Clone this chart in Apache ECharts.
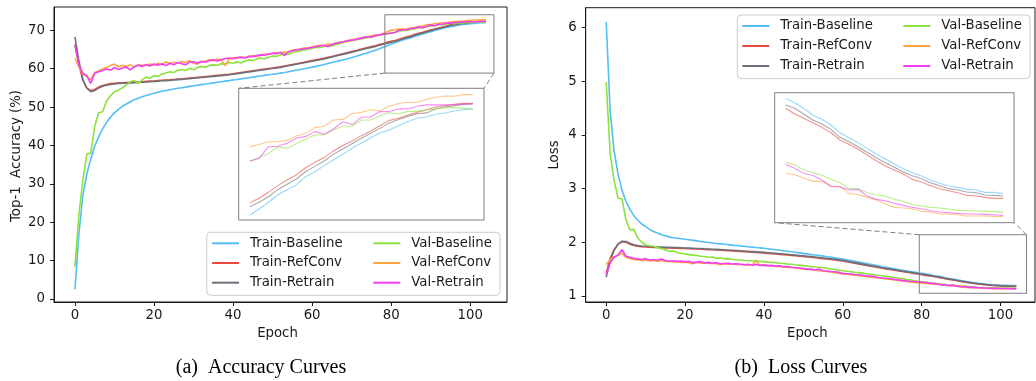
<!DOCTYPE html>
<html><head><meta charset="utf-8">
<script src="https://cdn.jsdelivr.net/npm/echarts@6/dist/echarts.min.js"></script>
<style>html,body{margin:0;padding:0;background:#fff}#c{width:1036px;height:381px}</style>
</head><body><div id="c"></div>
<script>
const epochs = [0,1,2,3,4,5,6,7,8,9,10,11,12,13,14,15,16,17,18,19,20,21,22,23,24,25,26,27,28,29,30,31,32,33,34,35,36,37,38,39,40,41,42,43,44,45,46,47,48,49,50,51,52,53,54,55,56,57,58,59,60,61,62,63,64,65,66,67,68,69,70,71,72,73,74,75,76,77,78,79,80,81,82,83,84,85,86,87,88,89,90,91,92,93,94,95,96,97,98,99,100,101,102,103,104];
const seriesNames = ['Train-Baseline','Train-RefConv','Train-Retrain','Val-Baseline','Val-RefConv','Val-Retrain'];
const lineColors = ['#52bef5','#ec4a3e','#6c717c','#8ce23c','#ffa440','#f23ef2'];
const accTicks = [0,10,20,30,40,50,60,70];
const lossTicks = [1,2,3,4,5,6];
const epochTicks = [0,20,40,60,80,100];
const insetFirstEpoch = 80;

const accTrainBaseline = [
2.5,17.0,27.0,32.5,36.5,39.8,42.3,44.3,46.0,47.4,
48.5,49.4,50.2,50.8,51.4,51.9,52.3,52.7,53.0,53.3,
53.6,53.85,54.1,54.3,54.5,54.7,54.9,55.05,55.2,55.4,
55.55,55.7,55.85,56.0,56.15,56.3,56.45,56.6,56.75,56.9,
57.05,57.2,57.35,57.5,57.65,57.8,57.95,58.1,58.25,58.4,
58.55,58.7,58.85,59.0,59.2,59.4,59.6,59.8,60.0,60.2,
60.4,60.6,60.85,61.1,61.35,61.6,61.85,62.1,62.35,62.6,
62.9,63.2,63.5,63.8,64.1,64.45,64.8,65.2,65.6,66.0,
66.46,66.78,67.13,67.51,67.79,68.04,68.47,68.73,69.05,69.36,
69.64,69.96,70.23,70.51,70.76,70.92,71.14,71.35,71.53,71.60,
71.74,71.81,71.91,71.98,72.02];
const accTrainRefConv = [
66.3,61.0,57.0,55.0,54.3,54.6,55.2,55.6,55.9,56.1,
56.2,56.3,56.35,56.4,56.45,56.5,56.55,56.6,56.7,56.75,
56.8,56.9,57.0,57.05,57.1,57.2,57.3,57.35,57.45,57.55,
57.65,57.75,57.85,57.95,58.05,58.15,58.25,58.35,58.45,58.55,
58.7,58.85,59.0,59.15,59.3,59.45,59.6,59.75,59.9,60.05,
60.2,60.35,60.5,60.7,60.9,61.1,61.3,61.5,61.7,61.9,
62.1,62.3,62.5,62.7,62.95,63.2,63.45,63.7,63.95,64.2,
64.45,64.7,65.0,65.25,65.5,65.75,66.0,66.3,66.55,66.85,
67.11,67.34,67.65,68.00,68.30,68.56,68.94,69.22,69.47,69.82,
70.10,70.34,70.62,70.86,71.14,71.42,71.53,71.70,71.84,71.98,
72.12,72.19,72.26,72.31,72.31];
const accTrainRetrain = [
68.3,62.0,57.2,54.9,54.0,54.3,55.0,55.4,55.7,55.9,
56.05,56.15,56.2,56.25,56.3,56.35,56.4,56.45,56.55,56.6,
56.65,56.75,56.85,56.9,56.95,57.05,57.15,57.2,57.3,57.4,
57.5,57.6,57.7,57.8,57.9,58.0,58.1,58.2,58.3,58.4,
58.55,58.7,58.85,59.0,59.15,59.3,59.45,59.6,59.75,59.9,
60.05,60.2,60.35,60.55,60.75,60.95,61.15,61.35,61.55,61.75,
61.95,62.15,62.35,62.55,62.8,63.05,63.3,63.55,63.8,64.05,
64.3,64.55,64.8,65.05,65.3,65.55,65.8,66.1,66.35,66.65,
66.90,67.13,67.42,67.79,68.07,68.35,68.73,69.01,69.29,69.64,
69.92,70.20,70.48,70.74,71.00,71.28,71.46,71.63,71.77,71.81,
72.02,72.12,72.19,72.26,72.28];
const accValBaseline = [
8.4,22.0,31.0,37.8,38.0,45.0,48.5,48.8,51.5,53.0,
54.0,54.4,55.0,55.8,56.6,56.9,56.2,57.1,57.8,57.5,
58.2,58.0,58.6,58.9,59.2,59.0,59.6,59.8,59.5,60.1,
59.7,60.3,60.6,60.4,60.8,61.0,60.9,61.3,61.2,61.6,
61.4,61.8,61.5,62.0,62.3,62.1,62.5,62.8,62.6,63.0,
63.3,63.2,63.6,63.9,63.7,64.2,64.4,64.6,64.9,65.1,
65.3,65.6,65.5,65.8,66.1,65.9,66.3,66.5,66.9,67.1,
67.3,67.5,67.7,67.9,68.1,68.3,68.5,68.7,68.9,69.1,
69.26,69.47,69.69,70.03,69.96,70.20,70.44,70.65,70.65,70.92,
71.11,71.11,71.44,71.44,71.67,71.82,71.75,71.89,71.89,71.96,
72.02,72.09,72.09,72.05,72.02];
const accValRefConv = [
62.7,60.5,58.5,58.0,57.2,59.0,59.5,60.0,60.3,60.8,
61.2,60.5,60.9,60.6,61.0,60.4,61.1,60.8,61.0,61.2,
60.9,61.4,61.0,61.8,61.3,61.7,61.5,61.9,61.6,62.1,
61.4,61.2,61.8,62.0,62.3,62.1,62.5,62.3,60.8,62.5,
62.8,62.7,63.0,62.9,63.2,63.4,63.1,63.5,63.8,63.7,
64.0,64.2,64.1,64.4,64.3,64.8,64.9,65.2,65.4,65.3,
65.7,65.9,66.1,66.0,66.4,66.3,66.7,66.9,67.1,67.3,
67.6,67.7,67.9,68.2,68.3,68.6,68.8,68.7,69.2,69.6,
70.03,70.16,70.30,70.30,70.37,70.60,70.74,71.04,71.11,71.44,
71.47,71.77,71.84,71.98,71.91,72.16,72.30,72.37,72.37,72.52,
72.63,72.70,72.68,72.77,72.77];
const accValRetrain = [
66.1,61.0,58.8,58.2,56.2,58.8,59.2,59.5,59.9,59.6,
60.3,59.8,60.2,60.4,59.7,60.5,60.9,60.6,61.0,60.7,
61.2,60.9,61.3,60.8,61.4,61.0,61.6,61.3,61.0,61.7,
61.8,61.5,61.9,61.7,62.1,62.3,62.0,62.4,62.6,62.8,
62.6,62.9,63.0,62.8,63.2,63.1,63.4,63.6,63.5,63.8,
64.0,63.9,64.3,63.4,64.4,64.7,64.9,65.0,65.2,65.4,
65.5,65.7,65.9,66.1,65.7,66.3,66.6,66.8,67.0,67.3,
67.4,67.6,67.9,68.1,68.3,68.2,68.6,68.8,69.0,69.1,
69.29,69.43,70.04,70.06,70.22,70.48,70.58,70.83,70.69,70.97,
71.35,71.20,71.58,71.58,71.88,71.88,72.02,72.02,72.16,72.23,
72.23,72.23,72.24,72.28,72.28];

const lossTrainBaseline = [
6.10,4.45,3.70,3.27,2.97,2.76,2.61,2.50,2.41,2.34,
2.29,2.24,2.20,2.17,2.14,2.12,2.10,2.085,2.075,2.065,
2.055,2.045,2.035,2.025,2.015,2.005,1.995,1.985,1.978,1.97,
1.962,1.955,1.947,1.94,1.932,1.925,1.917,1.91,1.902,1.895,
1.887,1.878,1.869,1.86,1.851,1.842,1.833,1.823,1.813,1.803,
1.793,1.783,1.773,1.763,1.753,1.742,1.731,1.72,1.709,1.698,
1.687,1.674,1.66,1.646,1.632,1.618,1.604,1.589,1.575,1.56,
1.545,1.532,1.519,1.506,1.493,1.48,1.468,1.456,1.444,1.432,
1.4213,1.4107,1.3969,1.3806,1.3701,1.3562,1.3375,1.3253,1.3132,1.2993,
1.2855,1.2733,1.2611,1.2497,1.2400,1.2318,1.2221,1.2140,1.2075,1.2042,
1.1993,1.1977,1.1920,1.1920,1.1888];
const lossTrainRefConv = [
1.42,1.70,1.86,1.96,2.01,2.0,1.965,1.94,1.925,1.917,
1.912,1.908,1.904,1.901,1.899,1.896,1.894,1.891,1.889,1.886,
1.883,1.879,1.876,1.873,1.87,1.866,1.863,1.859,1.855,1.851,
1.847,1.843,1.839,1.834,1.829,1.824,1.819,1.814,1.809,1.804,
1.799,1.793,1.787,1.781,1.775,1.769,1.763,1.756,1.749,1.742,
1.735,1.728,1.72,1.712,1.704,1.696,1.687,1.678,1.669,1.66,
1.651,1.638,1.624,1.61,1.597,1.583,1.569,1.556,1.543,1.53,
1.517,1.505,1.493,1.481,1.469,1.457,1.445,1.433,1.421,1.409,
1.3969,1.3831,1.3725,1.3619,1.3505,1.3375,1.3197,1.3091,1.2969,1.2831,
1.2692,1.2562,1.2465,1.2367,1.2237,1.2172,1.2083,1.2010,1.1961,1.1912,
1.1847,1.1831,1.1798,1.1774,1.1774];
const lossTrainRetrain = [
1.35,1.65,1.85,1.97,2.02,2.015,1.98,1.955,1.94,1.93,
1.925,1.92,1.915,1.912,1.91,1.907,1.905,1.902,1.90,1.897,
1.894,1.891,1.888,1.885,1.882,1.878,1.875,1.871,1.867,1.863,
1.859,1.855,1.851,1.846,1.841,1.836,1.831,1.826,1.821,1.816,
1.811,1.805,1.799,1.793,1.787,1.781,1.775,1.768,1.761,1.754,
1.747,1.74,1.732,1.724,1.716,1.708,1.699,1.69,1.681,1.672,
1.663,1.649,1.635,1.621,1.607,1.593,1.579,1.565,1.552,1.538,
1.525,1.513,1.501,1.489,1.477,1.465,1.453,1.441,1.429,1.417,
1.4050,1.3969,1.3831,1.3684,1.3587,1.3457,1.3262,1.3156,1.3034,1.2896,
1.2766,1.2644,1.2530,1.2416,1.2327,1.2253,1.2156,1.2083,1.2010,1.1977,
1.1928,1.1912,1.1855,1.1847,1.1831];
const lossValBaseline = [
4.98,3.65,3.15,2.82,2.81,2.42,2.23,2.24,2.08,2.0,
1.95,1.935,1.925,1.90,1.88,1.86,1.83,1.84,1.81,1.79,
1.78,1.77,1.76,1.755,1.74,1.735,1.72,1.725,1.70,1.71,
1.69,1.695,1.68,1.675,1.67,1.66,1.655,1.65,1.66,1.64,
1.64,1.63,1.625,1.62,1.61,1.605,1.595,1.59,1.58,1.575,
1.565,1.555,1.55,1.54,1.535,1.525,1.515,1.50,1.495,1.48,
1.47,1.46,1.45,1.44,1.435,1.425,1.415,1.405,1.395,1.385,
1.375,1.365,1.355,1.345,1.335,1.325,1.31,1.30,1.285,1.275,
1.2652,1.2595,1.2465,1.2400,1.2335,1.2237,1.2156,1.2010,1.2010,1.1912,
1.1863,1.1831,1.1749,1.1701,1.1619,1.1587,1.1554,1.1538,1.1514,1.1481,
1.1473,1.1465,1.1457,1.1449,1.1432];
const lossValRefConv = [
1.58,1.68,1.73,1.76,1.79,1.72,1.70,1.68,1.67,1.66,
1.665,1.65,1.66,1.645,1.66,1.64,1.645,1.635,1.64,1.625,
1.63,1.62,1.60,1.625,1.61,1.615,1.605,1.61,1.60,1.58,
1.60,1.59,1.595,1.585,1.59,1.58,1.575,1.58,1.65,1.575,
1.575,1.565,1.56,1.555,1.545,1.54,1.53,1.53,1.52,1.51,
1.50,1.495,1.49,1.48,1.47,1.465,1.455,1.445,1.43,1.425,
1.41,1.405,1.395,1.385,1.38,1.37,1.36,1.35,1.345,1.335,
1.325,1.315,1.31,1.30,1.29,1.28,1.27,1.26,1.25,1.245,
1.2384,1.2351,1.2270,1.2188,1.2188,1.2058,1.2058,1.1896,1.1863,1.1798,
1.1733,1.1636,1.1554,1.1538,1.1522,1.1457,1.1440,1.1392,1.1392,1.1375,
1.1343,1.1343,1.1343,1.1335,1.1327];
const lossValRetrain = [
1.40,1.62,1.72,1.76,1.86,1.74,1.72,1.70,1.69,1.68,
1.695,1.67,1.68,1.665,1.69,1.66,1.645,1.655,1.645,1.65,
1.635,1.645,1.62,1.63,1.64,1.615,1.625,1.61,1.62,1.60,
1.605,1.61,1.595,1.60,1.59,1.58,1.59,1.575,1.585,1.57,
1.575,1.565,1.57,1.555,1.56,1.545,1.55,1.535,1.53,1.52,
1.51,1.50,1.50,1.485,1.50,1.47,1.465,1.455,1.45,1.44,
1.42,1.415,1.41,1.40,1.395,1.385,1.375,1.37,1.36,1.345,
1.335,1.33,1.32,1.31,1.30,1.29,1.285,1.275,1.27,1.265,
1.2603,1.2505,1.2384,1.2335,1.2221,1.2075,1.2058,1.1977,1.1993,1.1831,
1.1749,1.1717,1.1652,1.1603,1.1554,1.1522,1.1473,1.1440,1.1424,1.1408,
1.1392,1.1392,1.1384,1.1375,1.1359];

// zoom windows in data units: [xMin, xMax, yMin, yMax]
const accZoomBox = [78.4, 106.0, 58.85, 74.05];
const lossZoomBox = [79.4, 106.6, 1.05, 2.14];
const accInsetRange = [78.8, 105.2, 66.2, 73.1];
const lossInsetRange = [78.8, 105.2, 1.118, 1.435];

const accSets = [accTrainBaseline, accTrainRefConv, accTrainRetrain, accValBaseline, accValRefConv, accValRetrain];
const lossSets = [lossTrainBaseline, lossTrainRefConv, lossTrainRetrain, lossValBaseline, lossValRefConv, lossValRetrain];

// layout
const G = [
  {left:54, top:7, width:453, height:295},
  {left:238.7, top:88.3, width:245.3, height:131.7},
  {left:585.7, top:7.7, width:449.3, height:294.3},
  {left:774.7, top:92.7, width:239.3, height:130}
];
const FONT = 'DejaVu Sans';
const FS = 13.3;
const INK = '#1a1a1a';

function mainX(gi, min, max) {
  return {type:'value', gridIndex:gi, min, max,
    axisLine:{show:true, onZero:false, lineStyle:{color:INK, width:1}},
    axisTick:{show:true, length:4, customValues:epochTicks, lineStyle:{color:INK}},
    axisLabel:{show:true, customValues:epochTicks, margin:7, fontFamily:FONT, fontSize:FS, color:INK},
    splitLine:{show:false}};
}
function mainY(gi, min, max, ticks) {
  return {type:'value', gridIndex:gi, min, max,
    axisLine:{show:true, onZero:false, lineStyle:{color:INK, width:1}},
    axisTick:{show:true, length:4, customValues:ticks, lineStyle:{color:INK}},
    axisLabel:{show:true, customValues:ticks, margin:9, fontFamily:FONT, fontSize:FS, color:INK},
    splitLine:{show:false}};
}
function insetAxis(gi, min, max) {
  return {type:'value', gridIndex:gi, min, max, axisLine:{show:false}, axisTick:{show:false}, axisLabel:{show:false}, splitLine:{show:false}};
}
function mk(i, arr, ax, inset) {
  let pts = epochs.map((e, k) => [e, arr[k]]);
  if (inset) pts = pts.filter(p => p[0] >= insetFirstEpoch);
  return {type:'line', name:seriesNames[i], xAxisIndex:ax, yAxisIndex:ax,
    data: pts, showSymbol:false, symbol:'none', silent:true, clip:true,
    animation:false, z: inset ? 4 : 2,
    lineStyle:{color:lineColors[i], width: inset ? 1.1 : 1.6, opacity: inset ? 0.6 : 1},
    itemStyle:{color:lineColors[i]}};
}
const series = [];
accSets.forEach((a, i) => series.push(mk(i, a, 0, false)));
lossSets.forEach((a, i) => series.push(mk(i, a, 2, false)));
accSets.forEach((a, i) => series.push(mk(i, a, 1, true)));
lossSets.forEach((a, i) => series.push(mk(i, a, 3, true)));

function leg(names, left, top, gap) {
  return {data:names, left, top, orient:'vertical', itemWidth:27, itemHeight:2, itemGap:gap, icon:'rect',
    padding:0, selectedMode:false, z:30,
    textStyle:{fontFamily:FONT, fontSize:FS, color:INK, lineHeight:16, padding:[0,0,0,6]}};
}

const option = {
  animation:false,
  backgroundColor:'#fff',
  grid: G.map((g, i) => ({left:g.left, top:g.top, width:g.width, height:g.height, show:true,
    borderColor: (i % 2) ? '#7f7f7f' : INK, borderWidth:1, backgroundColor: (i % 2) ? '#fff' : 'transparent', z: (i % 2) ? 3 : 0})),
  xAxis: [mainX(0, -5.3, 109.3), insetAxis(1, accInsetRange[0], accInsetRange[1]), mainX(2, -5.2, 108.75), insetAxis(3, lossInsetRange[0], lossInsetRange[1])],
  yAxis: [mainY(0, -0.78, 76.07, accTicks), insetAxis(1, accInsetRange[2], accInsetRange[3]), mainY(2, 0.888, 6.365, lossTicks), insetAxis(3, lossInsetRange[2], lossInsetRange[3])],
  legend: [
    leg(seriesNames.slice(0,3), 212, 235.3, 3.7),
    leg(seriesNames.slice(3,6), 373.3, 235.3, 3.7),
    leg(seriesNames.slice(0,3), 742.3, 18, 4),
    leg(seriesNames.slice(3,6), 903.3, 18, 4)
  ],
  series
};
const chart = echarts.init(document.getElementById('c'), null, {renderer:'canvas'});
chart.setOption(option);

const px = (g, pt) => chart.convertToPixel({gridIndex:g}, pt);
const a1 = px(0, [accZoomBox[0], accZoomBox[3]]);
const a2 = px(0, [accZoomBox[1], accZoomBox[2]]);
const b1 = px(2, [lossZoomBox[0], lossZoomBox[3]]);
const b2 = px(2, [lossZoomBox[1], lossZoomBox[2]]);
const gray = '#7f7f7f';
const dash = {stroke:gray, lineWidth:1, lineDash:[5,3], fill:'none'};
const graphic = [
  {type:'rect', z:20, shape:{x:206.7, y:232.3, width:293.3, height:63, r:4}, style:{fill:'rgba(255,255,255,0.85)', stroke:'#cccccc', lineWidth:1}},
  {type:'rect', z:20, shape:{x:737.3, y:15, width:292.7, height:63.7, r:4}, style:{fill:'rgba(255,255,255,0.85)', stroke:'#cccccc', lineWidth:1}},
  {type:'rect', z:10, shape:{x:a1[0], y:a1[1], width:a2[0]-a1[0], height:a2[1]-a1[1]}, style:{fill:'none', stroke:gray, lineWidth:1}},
  {type:'rect', z:10, shape:{x:b1[0], y:b1[1], width:b2[0]-b1[0], height:b2[1]-b1[1]}, style:{fill:'none', stroke:gray, lineWidth:1}},
  {type:'line', z:10, shape:{x1:a1[0], y1:a2[1], x2:G[1].left, y2:G[1].top}, style:dash},
  {type:'line', z:10, shape:{x1:a2[0], y1:a2[1], x2:G[1].left + G[1].width, y2:G[1].top}, style:dash},
  {type:'line', z:10, shape:{x1:b1[0], y1:b1[1], x2:G[3].left, y2:G[3].top + G[3].height}, style:dash},
  {type:'line', z:10, shape:{x1:b2[0], y1:b1[1], x2:G[3].left + G[3].width, y2:G[3].top + G[3].height}, style:dash},
  {type:'text', z:10, x:17, y:156, rotation:Math.PI/2, style:{text:'Top-1  Accuracy (%)', fontFamily:FONT, fontSize:FS, fill:INK, align:'center', verticalAlign:'middle'}},
  {type:'text', z:10, x:555, y:155, rotation:Math.PI/2, style:{text:'Loss', fontFamily:FONT, fontSize:FS, fill:INK, align:'center', verticalAlign:'middle'}},
  {type:'text', z:10, x:G[0].left + G[0].width/2 - 3, y:334, style:{text:'Epoch', fontFamily:FONT, fontSize:FS, fill:INK, align:'center', verticalAlign:'middle'}},
  {type:'text', z:10, x:G[2].left + G[2].width/2 - 3, y:334, style:{text:'Epoch', fontFamily:FONT, fontSize:FS, fill:INK, align:'center', verticalAlign:'middle'}},
  {type:'text', z:10, x:261, y:368, style:{text:'(a)  Accuracy Curves', fontFamily:'Liberation Serif', fontSize:20, fill:'#000', align:'center', verticalAlign:'middle'}},
  {type:'text', z:10, x:801, y:368, style:{text:'(b)  Loss Curves', fontFamily:'Liberation Serif', fontSize:20, fill:'#000', align:'center', verticalAlign:'middle'}}
];
chart.setOption({graphic});
</script></body></html>
